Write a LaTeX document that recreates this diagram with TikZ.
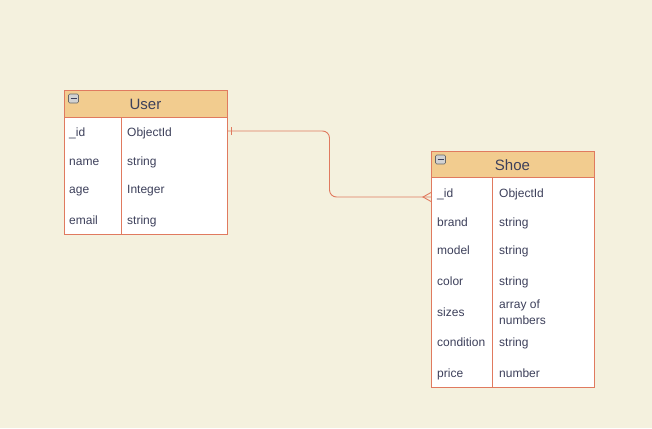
\documentclass[tikz,border=0pt]{standalone}
\usepackage{fontspec}
\setmainfont{Liberation Sans}
\definecolor{bg}{HTML}{F4F1DE}
\definecolor{edge}{HTML}{E07A5F}
\definecolor{head}{HTML}{F2CC8F}
\definecolor{ink}{HTML}{3D405B}
\begin{document}
\begin{tikzpicture}[x=1pt,y=-1pt,
  tbl/.style={draw=edge,line width=0.9pt},
  hdr/.style={tbl,fill=head},
  body/.style={tbl,fill=white},
  htxt/.style={text=ink,font=\fontsize{15}{17}\selectfont,anchor=base,inner sep=0pt},
  ftxt/.style={text=ink,font=\fontsize{12}{16}\selectfont,anchor=base west,inner sep=0pt,align=left},
  link/.style={draw=edge,line width=0.9pt},
  icon/.style={draw=gray!80!black,fill=gray!35,rounded corners=1.2pt,line width=0.6pt}]
\fill[bg] (0,0) rectangle (652,428);
\useasboundingbox (0,0) rectangle (652,428);
% ---- User
\draw[body] (64,117) rectangle (227,234);
\draw[hdr] (64,90) rectangle (227,117);
\draw[tbl] (121,117) -- (121,234);
\draw[icon] (68.5,94) rectangle (78.5,103);
\draw[ink,line width=1pt] (70.5,98.5) -- (76.5,98.5);
\node[htxt] (userT) at (145.5,109) {User};
\node[ftxt] (u1a) at (69,136) {\_id};
\node[ftxt] (u1b) at (127,136) {ObjectId};
\node[ftxt] (u2a) at (69,165) {name};
\node[ftxt] (u2b) at (127,165) {string};
\node[ftxt] (u3a) at (69,193) {age};
\node[ftxt] (u3b) at (127,193) {Integer};
\node[ftxt] (u4a) at (69,224) {email};
\node[ftxt] (u4b) at (127,224) {string};
\coordinate (uEnd) at (227,131);
% ---- Shoe
\draw[body] (431,177) rectangle (594,387);
\draw[hdr] (431,151) rectangle (594,177);
\draw[tbl] (492,177) -- (492,387);
\draw[icon] (435.5,155) rectangle (445.5,164);
\draw[ink,line width=1pt] (437.5,159.5) -- (443.5,159.5);
\node[htxt] (shoeT) at (512.5,170) {Shoe};
\node[ftxt] (s1a) at (437,197) {\_id};
\node[ftxt] (s1b) at (499,197) {ObjectId};
\node[ftxt] (s2a) at (437,226) {brand};
\node[ftxt] (s2b) at (499,226) {string};
\node[ftxt] (s3a) at (437,254) {model};
\node[ftxt] (s3b) at (499,254) {string};
\node[ftxt] (s4a) at (437,285) {color};
\node[ftxt] (s4b) at (499,285) {string};
\node[ftxt] (s5a) at (437,316) {sizes};
\node[ftxt,anchor=north west] (s5b) at (499,299.5) {array of\\numbers};
\node[ftxt] (s6a) at (437,346) {condition};
\node[ftxt] (s6b) at (499,346) {string};
\node[ftxt] (s7a) at (437,377) {price};
\node[ftxt] (s7b) at (499,377) {number};
\coordinate (sEnd) at (431,197);
% ---- connector
\draw[link,rounded corners=7pt] (uEnd) -- (329.5,131) -- (329.5,197) -- (sEnd);
\draw[link] (231,127) -- (231,135);
\draw[link] (431,192.5) -- (423,197) -- (431,201.5);
\end{tikzpicture}
\end{document}
